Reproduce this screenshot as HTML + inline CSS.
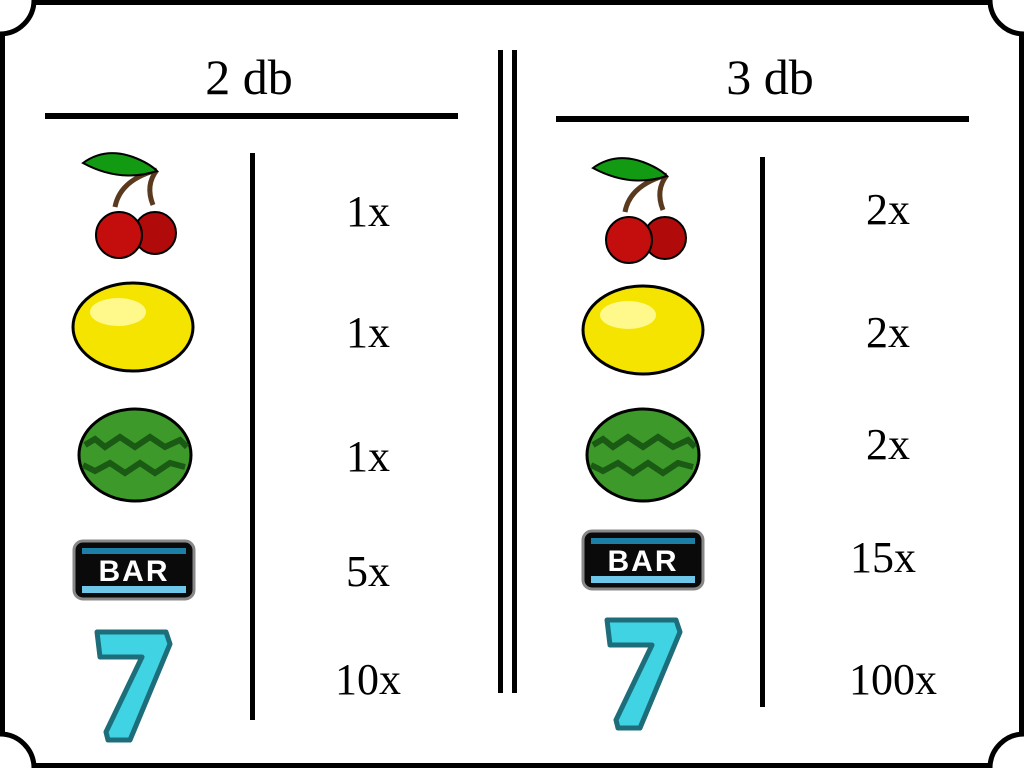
<!DOCTYPE html>
<html><head><meta charset="utf-8"><style>
html,body{margin:0;padding:0;background:#fff}
svg{display:block}
text{font-family:"Liberation Serif",serif;fill:#000}
</style></head><body>
<svg width="1024" height="768" viewBox="0 0 1024 768">
<defs>
<g id="cherry">
<path d="M-20 2 Q-15 -25 22 -35" stroke="#5a3a1e" stroke-width="5" fill="none"/>
<path d="M18 0 Q10 -20 22 -35" stroke="#5a3a1e" stroke-width="5" fill="none"/>
<path d="M-52 -42 Q-30 -58 -2 -48 Q14 -42 22 -34 Q-15 -22 -52 -42Z" fill="#139a13" stroke="#000" stroke-width="2"/>
<circle cx="20" cy="28" r="21" fill="#b00a0a" stroke="#000" stroke-width="2"/>
<circle cx="-16" cy="30" r="23" fill="#c40d0d" stroke="#000" stroke-width="2"/>
</g>
<g id="lemon">
<ellipse cx="0" cy="0" rx="60" ry="44" fill="#f4e400" stroke="#000" stroke-width="3"/>
<ellipse cx="-15" cy="-15" rx="28" ry="14" fill="#fff88a"/>
</g>
<g id="melon">
<ellipse cx="0" cy="0" rx="56" ry="46" fill="#3d9a2a" stroke="#000" stroke-width="3"/>
<path d="M-50 -10 L-40 -16 L-30 -8 L-15 -18 L0 -8 L15 -18 L30 -8 L45 -15 L52 -8 M-52 10 L-40 16 L-25 8 L-10 18 L5 8 L20 18 L35 8 L50 12" stroke="#1a5a14" stroke-width="6" fill="none"/>
</g>
<g id="bar">
<rect x="-60" y="-29" width="120" height="58" rx="9" fill="#0a0a0a" stroke="#888" stroke-width="3"/>
<rect x="-52" y="16" width="104" height="7" fill="#6ec6e8"/>
<rect x="-52" y="-22" width="104" height="6" fill="#1d7fa6"/>
<text x="0" y="11" text-anchor="middle" style="font-family:'Liberation Sans',sans-serif;font-weight:bold;font-size:30px;fill:#fff;letter-spacing:2px">BAR</text>
</g>
<g id="seven">
<path d="M-33 -50 L36 -50 L40 -38 L0 58 L-22 58 L-24 50 L12 -25 L-30 -25 Z" fill="#3fd3e3" stroke="#1d6e7a" stroke-width="5" stroke-linejoin="round"/>
</g>
</defs>

<rect x="2.5" y="2.5" width="1019" height="763" fill="none" stroke="#000" stroke-width="5"/>
<circle cx="0" cy="0" r="34" fill="#fff" stroke="#000" stroke-width="5"/>
<circle cx="1024" cy="0" r="34" fill="#fff" stroke="#000" stroke-width="5"/>
<circle cx="0" cy="768" r="34" fill="#fff" stroke="#000" stroke-width="5"/>
<circle cx="1024" cy="768" r="34" fill="#fff" stroke="#000" stroke-width="5"/>

<text x="249" y="94" text-anchor="middle" font-size="50">2 db</text>
<rect x="45" y="113" width="413" height="6"/>
<text x="770" y="94" text-anchor="middle" font-size="50">3 db</text>
<rect x="556" y="116" width="413" height="6"/>

<rect x="498" y="50" width="5" height="643"/>
<rect x="512" y="50" width="5" height="643"/>
<rect x="250" y="153" width="5" height="567"/>
<rect x="760" y="157" width="5" height="550"/>

<use href="#cherry" x="135" y="205"/>
<use href="#lemon" x="133" y="327"/>
<use href="#melon" x="135" y="455"/>
<use href="#bar" x="134" y="570"/>
<use href="#seven" x="130" y="682"/>

<use href="#cherry" x="645" y="210"/>
<use href="#lemon" x="643" y="330"/>
<use href="#melon" x="643" y="455"/>
<use href="#bar" x="643" y="560"/>
<use href="#seven" x="640" y="670"/>

<g font-size="44" text-anchor="middle">
<text x="368" y="226">1x</text>
<text x="368" y="347">1x</text>
<text x="368" y="471">1x</text>
<text x="368" y="586">5x</text>
<text x="368" y="694">10x</text>
<text x="888" y="224">2x</text>
<text x="888" y="347">2x</text>
<text x="888" y="459">2x</text>
<text x="883" y="572">15x</text>
<text x="893" y="694">100x</text>
</g>
</svg>
</body></html>
